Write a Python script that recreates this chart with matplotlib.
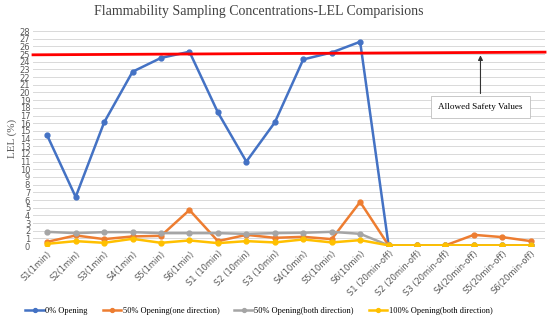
import matplotlib.pyplot as plt
import numpy as np

categories = ["S1(1min)", "S2(1min)", "S3(1min)", "S4(1min)", "S5(1min)", "S6(1min)",
              "S1 (10min)", "S2 (10min)", "S3 (10min)", "S4(10min)", "S5(10min)", "S6(10min)",
              "S1 (20min-off)", "S2 (20min-off)", "S3 (20min-off)", "S4(20min-off)",
              "S5(20min-off)", "S6(20min-off)"]

open0 = [14.4, 6.4, 16.1, 22.7, 24.5, 25.3, 17.4, 11.0, 16.1, 24.3, 25.2, 26.6,
         0.1, 0.1, 0.1, 0.1, 0.1, 0.1]
open50_one = [0.56, 1.39, 0.91, 1.26, 1.34, 4.7, 0.65, 1.47, 1.08, 1.21, 0.91, 5.75,
              0.1, 0.1, 0.1, 1.47, 1.17, 0.65]
open50_both = [1.86, 1.69, 1.82, 1.82, 1.69, 1.69, 1.69, 1.6, 1.69, 1.74, 1.86, 1.6,
               0.1, 0.1, 0.1, 0.1, 0.1, 0.1]
open100 = [0.3, 0.65, 0.43, 0.95, 0.43, 0.74, 0.39, 0.65, 0.48, 0.87, 0.48, 0.78,
           0.1, 0.1, 0.1, 0.1, 0.1, 0.1]

series = [("0% Opening", open0, "#4472C4"),
          ("50% Opening(one direction)", open50_one, "#ED7D31"),
          ("50% Opening(both direction)", open50_both, "#A5A5A5"),
          ("100% Opening(both direction)", open100, "#FFC000")]

safety_left, safety_right = 24.9, 25.25

fig = plt.figure(figsize=(5.5, 3.23), dpi=100)
ax = fig.add_axes([0.06, 0.238, 0.931, 0.666])

x = np.arange(len(categories))
for name, vals, col in series:
    ax.plot(x, vals, color=col, lw=1.8, marker="o", ms=3.5, label=name, zorder=3)

# allowed safety line (drawn as a slightly sloped shape)
ax.plot([-0.5, len(categories) - 0.5], [safety_left, safety_right],
        color="#FF0000", lw=2, zorder=4, clip_on=False)

ax.annotate("", xy=(15.23, 25.2), xytext=(15.23, 19.5),
            arrowprops=dict(arrowstyle="-|>", color="#333333", lw=0.8, mutation_scale=7))
ax.text(15.23, 18.1, "Allowed Safety Values", ha="center", va="center",
        fontsize=6.6, family="Liberation Serif",
        bbox=dict(boxstyle="square,pad=0.8", fc="white", ec="#BFBFBF", lw=0.6))

ax.set_xlim(-0.5, len(categories) - 0.5)
ax.set_ylim(0, 28)
ax.set_yticks(range(0, 29))
ax.set_xticks(x)
ax.set_xticklabels(categories, rotation=45, ha="right", rotation_mode="anchor")
ax.tick_params(axis="both", length=0, labelsize=6, colors="#595959", pad=2)
ax.grid(axis="y", color="#D9D9D9", lw=0.7)
ax.set_axisbelow(True)
for s in ax.spines.values():
    s.set_visible(False)

ax.set_ylabel("LEL (%)", family="Liberation Serif", fontsize=8, color="#595959", labelpad=2)
fig.suptitle("Flammability Sampling Concentrations-LEL Comparisions",
             family="Liberation Serif", fontsize=10, color="#404040", x=0.47, y=0.985)

handles, labels = ax.get_legend_handles_labels()
fig.legend(handles, labels, loc="center", bbox_to_anchor=(0.471, 0.036), ncol=4,
           frameon=False, prop={"family": "Liberation Serif", "size": 6},
           handlelength=2.2, columnspacing=1.8, handletextpad=0.2, markerscale=0.8)

fig.savefig("out.png", dpi=100)
